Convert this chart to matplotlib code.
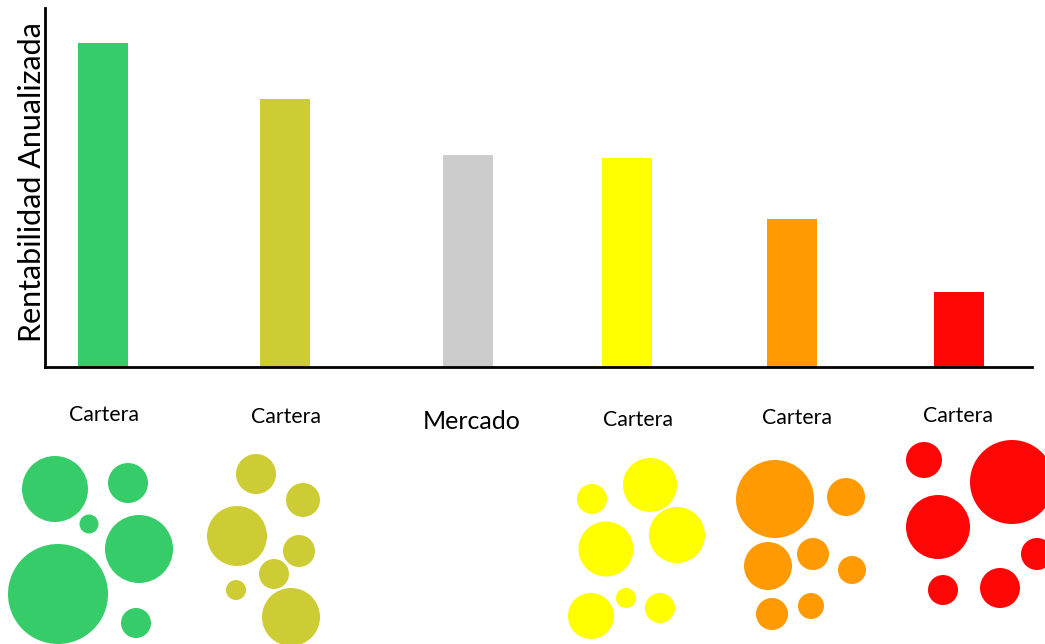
import matplotlib
matplotlib.use("Agg")
import matplotlib.pyplot as plt
from matplotlib.patches import Circle

plt.rcParams['font.family'] = ['Lato', 'DejaVu Sans']

# ---- data ----
categories = ["Cartera", "Cartera", "Mercado", "Cartera", "Cartera", "Cartera"]
returns = [9.02, 7.47, 5.90, 5.82, 4.12, 2.09]
bar_pos = [0.0, 1.0, 2.005, 2.879, 3.785, 4.703]
colors = ["#36CC6A", "#CDCC34", "#CCCCCC", "#FFFF00", "#FF9A03", "#FF0606"]
ylabel = "Rentabilidad Anualizada"

# label anchors (pixel space of the figure)
label_x = [104, 286, 472, 638, 797, 958]
label_y = [415, 417, 421, 420, 418, 416]
label_size = [15.3, 15.3, 18, 15.3, 15.3, 15.3]

# portfolio bubbles: (x, y, r) in figure pixels per group
bubbles = [
    [(55, 489, 33), (128, 483, 20), (89, 524, 9.5), (139, 549, 34), (58, 594, 50), (136, 623, 15)],
    [(256, 474, 20), (303, 500, 17), (237, 536, 30), (299, 551, 16), (274, 574, 15), (236, 590, 10), (291, 617, 29)],
    [],
    [(592, 499, 15), (650, 485, 27), (606, 549, 27.5), (677, 535, 28), (591, 616, 23), (626, 598, 10), (660, 608, 15)],
    [(775, 499, 39), (846, 497, 19), (768, 566, 24), (813, 554, 16), (852, 570, 14), (772, 614, 16), (811, 606, 13)],
    [(924, 460, 18), (1012, 482, 42), (938, 527, 32), (1037, 554, 16), (943, 590, 15), (1000, 588, 20)],
]

W, H = 1045, 644
fig = plt.figure(figsize=(W / 100, H / 100), dpi=100)

# bar axes
ax_l, ax_r, ax_b, ax_t = 45, 1032, 367, 8
ax = fig.add_axes([ax_l / W, 1 - ax_b / H, (ax_r - ax_l) / W, (ax_b - ax_t) / H])
unit = 182.0
ax.set_xlim(-58 / unit, (ax_r - ax_l - 58) / unit)
ax.set_ylim(0, 10)
ax.bar(bar_pos, returns, width=50 / unit, color=colors, zorder=1)
for s in ["top", "right"]:
    ax.spines[s].set_visible(False)
for s in ["left", "bottom"]:
    ax.spines[s].set_linewidth(2.0)
    ax.spines[s].set_color("black")
    ax.spines[s].set_zorder(3)
ax.set_xticks([])
ax.set_yticks([])

fig.text(32 / W, 1 - 182 / H, ylabel, rotation=90, ha="center", va="center",
         fontsize=22, color="black")

# overlay in pixel coordinates for labels and bubbles
ov = fig.add_axes([0, 0, 1, 1])
ov.set_xlim(0, W)
ov.set_ylim(H, 0)
ov.axis("off")
ov.patch.set_alpha(0)
for i, cat in enumerate(categories):
    ov.text(label_x[i], label_y[i], cat, ha="center", va="center",
            fontsize=label_size[i], color="black")
    for (cx, cy, r) in bubbles[i]:
        ov.add_patch(Circle((cx, cy), r, facecolor=colors[i], edgecolor="none"))

fig.savefig("out.png", dpi=100)
